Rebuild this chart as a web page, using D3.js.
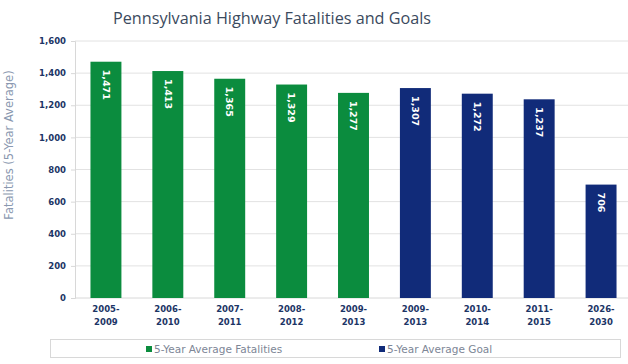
<!DOCTYPE html>
<html>
<head>
<meta charset="utf-8">
<script src="https://cdn.jsdelivr.net/npm/d3@7"></script>
<style>
  body { margin: 0; background: #fff; }
  svg { display: block; }
</style>
</head>
<body>
<svg id="chart" width="628" height="364"></svg>
<script>
const periods = ["2005-2009", "2006-2010", "2007-2011", "2008-2012", "2009-2013",
                 "2009-2013 ", "2010-2014", "2011-2015", "2026-2030"];
const values = [1471, 1413, 1365, 1329, 1277, 1307, 1272, 1237, 706];
const kinds = ["actual", "actual", "actual", "actual", "actual",
               "goal", "goal", "goal", "goal"];
const yTicks = [0, 200, 400, 600, 800, 1000, 1200, 1400, 1600];
const legendLabels = ["5-Year Average Fatalities", "5-Year Average Goal"];

const green = "#0b8c3e";
const navy = "#112b79";
const tickColor = "#1c3566";
const font = "DejaVu Sans, Verdana, sans-serif";

const svg = d3.select("#chart");

const x = d3.scaleBand()
    .domain(periods)
    .range([75, 632])
    .paddingInner(0.5)
    .paddingOuter(0.25);

const y = d3.scaleLinear()
    .domain([0, 1600])
    .range([298, 41]);

// title
svg.append("text")
    .attr("x", 272)
    .attr("y", 24)
    .attr("text-anchor", "middle")
    .attr("font-family", "Open Sans, sans-serif")
    .attr("font-size", 16.2)
    .attr("fill", "#3b4a5e")
    .text("Pennsylvania Highway Fatalities and Goals");

// gridlines
svg.append("g")
    .selectAll("line")
    .data(yTicks.slice(1))
    .join("line")
    .attr("x1", 75)
    .attr("x2", 628)
    .attr("y1", d => y(d))
    .attr("y2", d => y(d))
    .attr("stroke", "#e2e2e2");

// y axis
const yAxis = svg.append("g")
    .attr("transform", "translate(75,0)")
    .call(d3.axisLeft(y).tickValues(yTicks).tickSize(4).tickPadding(5)
        .tickFormat(d3.format(",")));
yAxis.select(".domain").attr("stroke", "#d8d8d8");
yAxis.selectAll(".tick line").attr("stroke", "#d8d8d8");
yAxis.selectAll(".tick text")
    .attr("font-family", font)
    .attr("font-size", 8.5)
    .attr("font-weight", "bold")
    .attr("fill", tickColor);

svg.append("line")
    .attr("x1", 75).attr("x2", 628)
    .attr("y1", y(0)).attr("y2", y(0))
    .attr("stroke", "#d8d8d8");

svg.append("text")
    .attr("transform", "translate(13,145) rotate(-90)")
    .attr("text-anchor", "middle")
    .attr("font-family", font)
    .attr("font-size", 11.5)
    .attr("fill", "#8a98b0")
    .text("Fatalities (5-Year Average)");

// bars
svg.append("g")
    .selectAll("rect")
    .data(periods)
    .join("rect")
    .attr("x", d => x(d))
    .attr("y", (d, i) => y(values[i]))
    .attr("width", x.bandwidth())
    .attr("height", (d, i) => y(0) - y(values[i]))
    .attr("fill", (d, i) => kinds[i] === "actual" ? green : navy);

// value labels, rotated
svg.append("g")
    .selectAll("text")
    .data(periods)
    .join("text")
    .attr("transform", (d, i) =>
        `translate(${x(d) + x.bandwidth() / 2},${y(values[i]) + 8}) rotate(90)`)
    .attr("dy", "0.35em")
    .attr("font-family", font)
    .attr("font-size", 9.5)
    .attr("font-weight", "bold")
    .attr("fill", "#fff")
    .text((d, i) => d3.format(",")(values[i]));

// x labels, two lines
const xl = svg.append("g")
    .selectAll("text")
    .data(periods)
    .join("text")
    .attr("x", d => x(d) + x.bandwidth() / 2)
    .attr("y", 312)
    .attr("text-anchor", "middle")
    .attr("font-family", font)
    .attr("font-size", 8.5)
    .attr("font-weight", "bold")
    .attr("fill", tickColor);
xl.append("tspan")
    .attr("x", d => x(d) + x.bandwidth() / 2)
    .text(d => d.trim().split("-")[0] + "-");
xl.append("tspan")
    .attr("x", d => x(d) + x.bandwidth() / 2)
    .attr("dy", 13)
    .text(d => d.trim().split("-")[1]);

// legend
svg.append("rect")
    .attr("x", 50.5).attr("y", 339.5)
    .attr("width", 570).attr("height", 18)
    .attr("fill", "none")
    .attr("stroke", "#d8d8d8");

const legendX = [146, 379];
const leg = svg.append("g")
    .selectAll("g")
    .data(legendLabels)
    .join("g")
    .attr("transform", (d, i) => `translate(${legendX[i]},349)`);
leg.append("rect")
    .attr("x", 0).attr("y", -3)
    .attr("width", 6).attr("height", 6)
    .attr("fill", (d, i) => i === 0 ? green : navy);
leg.append("text")
    .attr("x", 8)
    .attr("dy", "0.35em")
    .attr("font-family", font)
    .attr("font-size", 10.5)
    .attr("fill", "#7d8696")
    .text(d => d);
</script>
</body>
</html>
